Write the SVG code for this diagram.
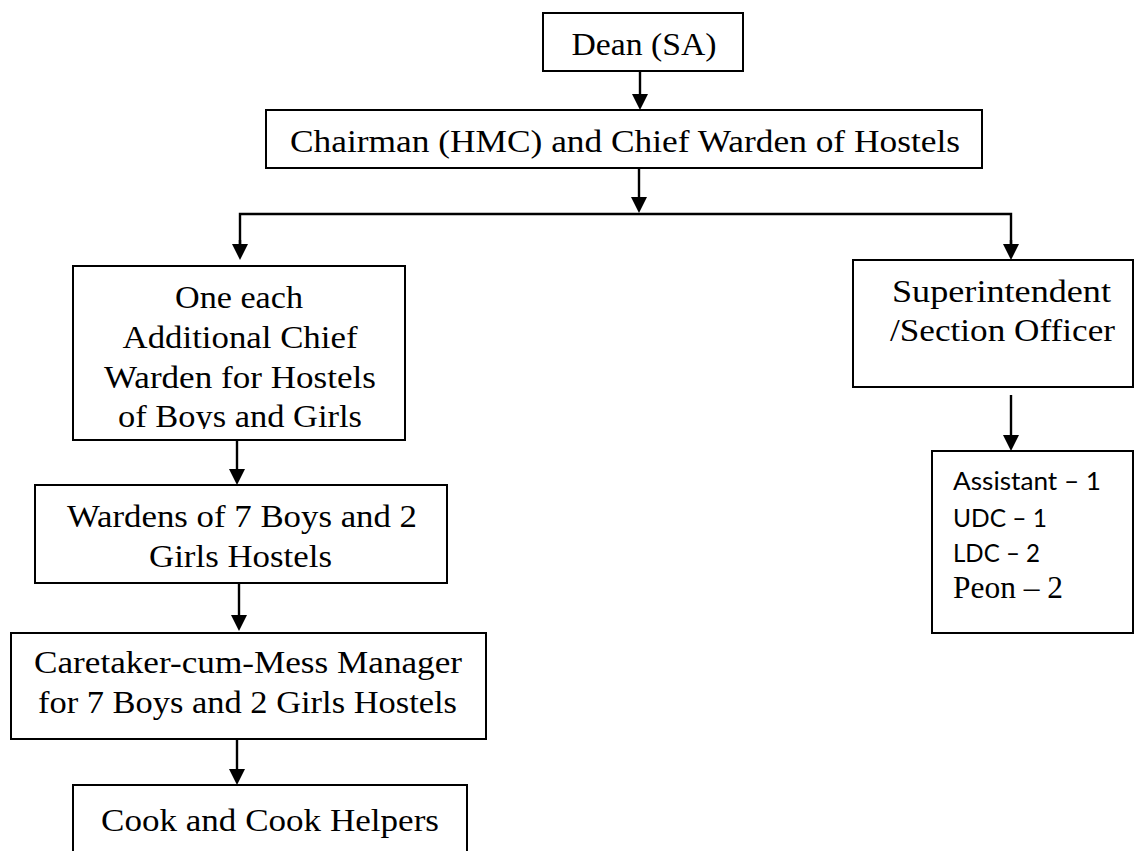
<svg xmlns="http://www.w3.org/2000/svg" width="1136" height="851" viewBox="0 0 1136 851">
<style>
.box{fill:#fff;stroke:#000;stroke-width:2}
.t{font-family:"Liberation Serif","Times New Roman",serif;font-size:31px;fill:#000;text-anchor:middle}
.s{font-family:"Lato","Open Sans",sans-serif;font-size:25px;fill:#000}
.ps{font-family:"Liberation Serif","Times New Roman",serif;font-size:31px;fill:#000}
.c{stroke:#000;stroke-width:2.4;fill:none}
</style>
<defs>
<marker id="ah" viewBox="0 0 16 16" refX="7" refY="8" markerWidth="16" markerHeight="16" markerUnits="userSpaceOnUse" orient="auto">
<path d="M0,0 L16,8 L0,16 Z" fill="#000"/>
</marker>
<clipPath id="clipBoys"><rect x="73" y="266" width="332" height="163"/></clipPath>
</defs>
<rect width="1136" height="851" fill="#fff"/>
<g id="connectors">
<line class="c" x1="640" y1="65" x2="640" y2="101" marker-end="url(#ah)"/>
<line class="c" x1="639" y1="168" x2="639" y2="204" marker-end="url(#ah)"/>
<polyline class="c" points="240,251 240,214 1011,214 1011,251"/>
<line class="c" x1="240" y1="240" x2="240" y2="251" marker-end="url(#ah)"/>
<line class="c" x1="1011" y1="240" x2="1011" y2="251" marker-end="url(#ah)"/>
<line class="c" x1="237" y1="440" x2="237" y2="476" marker-end="url(#ah)"/>
<line class="c" x1="239" y1="583" x2="239" y2="622" marker-end="url(#ah)"/>
<line class="c" x1="237" y1="739" x2="237" y2="776" marker-end="url(#ah)"/>
<line class="c" x1="1011" y1="395" x2="1011" y2="442" marker-end="url(#ah)"/>
</g>
<g id="dean">
<rect class="box" x="543" y="13" width="200" height="58"/>
<text class="t" x="644" y="55" textLength="145" lengthAdjust="spacingAndGlyphs">Dean (SA)</text>
</g>
<g id="chairman">
<rect class="box" x="266" y="110" width="716" height="58"/>
<text class="t" x="625" y="152" textLength="670" lengthAdjust="spacingAndGlyphs">Chairman (HMC) and Chief Warden of Hostels</text>
</g>
<g id="addl-chief-warden">
<rect class="box" x="73" y="266" width="332" height="174"/>
<text class="t" x="239" y="308" textLength="128" lengthAdjust="spacingAndGlyphs">One each</text>
<text class="t" x="240" y="348" textLength="235" lengthAdjust="spacingAndGlyphs">Additional Chief</text>
<text class="t" x="240" y="388" textLength="272" lengthAdjust="spacingAndGlyphs">Warden for Hostels</text>
<text class="t" x="240" y="427" textLength="244" lengthAdjust="spacingAndGlyphs" clip-path="url(#clipBoys)">of Boys and Girls</text>
</g>
<g id="wardens">
<rect class="box" x="35" y="485" width="412" height="98"/>
<text class="t" x="242" y="527" textLength="350" lengthAdjust="spacingAndGlyphs">Wardens of 7 Boys and 2</text>
<text class="t" x="240.5" y="567" textLength="183" lengthAdjust="spacingAndGlyphs">Girls Hostels</text>
</g>
<g id="caretaker">
<rect class="box" x="11" y="633" width="475" height="106"/>
<text class="t" x="248" y="673" textLength="428" lengthAdjust="spacingAndGlyphs">Caretaker-cum-Mess Manager</text>
<text class="t" x="247.5" y="713" textLength="419" lengthAdjust="spacingAndGlyphs">for 7 Boys and 2 Girls Hostels</text>
</g>
<g id="cook">
<rect class="box" x="73" y="785" width="394" height="80"/>
<text class="t" x="270" y="831" textLength="338" lengthAdjust="spacingAndGlyphs">Cook and Cook Helpers</text>
</g>
<g id="superintendent">
<rect class="box" x="853" y="260" width="280" height="127"/>
<text class="t" x="1001.5" y="302" textLength="219" lengthAdjust="spacingAndGlyphs">Superintendent</text>
<text class="t" x="1002.5" y="341" textLength="225" lengthAdjust="spacingAndGlyphs">/Section Officer</text>
</g>
<g id="staff">
<rect class="box" x="932" y="451" width="201" height="182"/>
<text class="s" x="953" y="490" textLength="148" lengthAdjust="spacingAndGlyphs">Assistant – 1</text>
<text class="s" x="953" y="527" textLength="94" lengthAdjust="spacingAndGlyphs">UDC – 1</text>
<text class="s" x="953" y="562" textLength="87" lengthAdjust="spacingAndGlyphs">LDC – 2</text>
<text class="ps" x="953" y="598" textLength="110" lengthAdjust="spacingAndGlyphs">Peon – 2</text>
</g>
</svg>
